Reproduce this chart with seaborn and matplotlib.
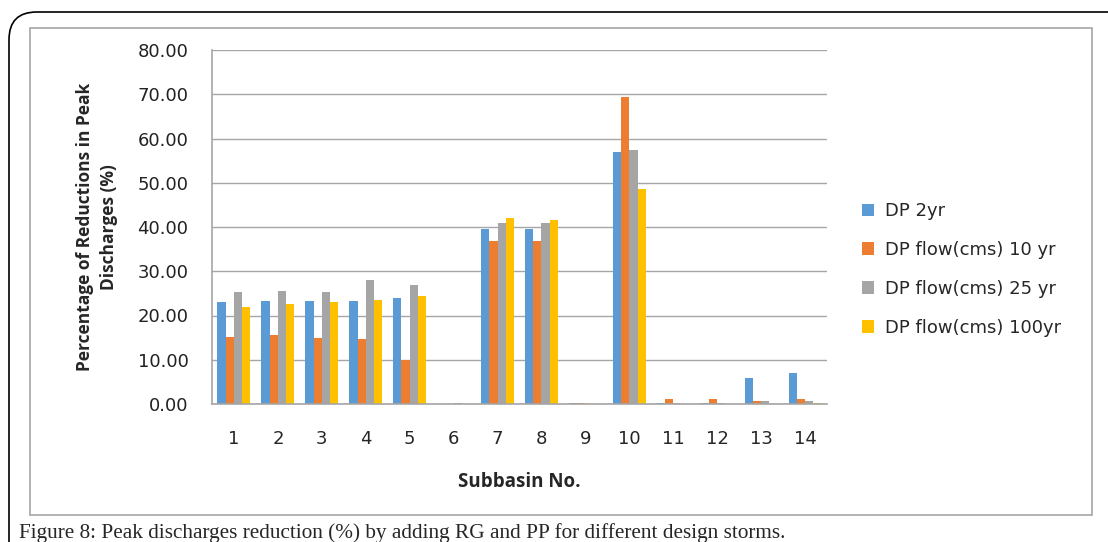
import pandas as pd
import numpy as np
import matplotlib
matplotlib.use("Agg")
import matplotlib.pyplot as plt
from matplotlib.patches import FancyBboxPatch, Rectangle
import seaborn as sns

subbasins = [str(i) for i in range(1, 15)]
dp_2yr = [23.0, 23.3, 23.3, 23.3, 24.0, 0.0, 39.5, 39.5, 0.3, 57.0, 0.3, 0.3, 5.9, 7.1]
dp_10yr = [15.2, 15.5, 15.0, 14.7, 10.0, 0.0, 36.8, 36.8, 0.3, 69.3, 1.2, 1.2, 0.6, 1.2]
dp_25yr = [25.2, 25.5, 25.2, 28.0, 26.8, 0.3, 40.8, 40.8, 0.0, 57.5, 0.3, 0.3, 0.6, 0.6]
dp_100yr = [22.0, 22.6, 23.0, 23.5, 24.5, 0.0, 42.0, 41.5, 0.0, 48.5, 0.0, 0.0, 0.0, 0.3]
series_names = ["DP 2yr", "DP flow(cms) 10 yr", "DP flow(cms) 25 yr", "DP flow(cms) 100yr"]
colors = ["#5B9BD5", "#ED7D31", "#A5A5A5", "#FFC000"]

rows = []
for name, vals in zip(series_names, [dp_2yr, dp_10yr, dp_25yr, dp_100yr]):
    for sb, v in zip(subbasins, vals):
        rows.append({"Subbasin": sb, "Series": name, "Value": v})
df = pd.DataFrame(rows)

sns.set_style("white")
plt.rcParams['font.family'] = ['DejaVu Sans']

fig = plt.figure(figsize=(11.08, 5.42), dpi=100)
ax = fig.add_axes([212 / 1108, 138 / 542, 615 / 1108, 354 / 542])

sns.barplot(data=df, x="Subbasin", y="Value", hue="Series", palette=colors,
            width=0.75, ax=ax, saturation=1, edgecolor="none")

ax.set_ylim(0, 80)
ax.set_yticks(np.arange(0, 81, 10))
ax.set_yticklabels([f"{v:.2f}" for v in np.arange(0, 81, 10)], fontsize=13, color="#222222")
ax.set_xlim(-0.5, 13.5)
ax.grid(axis="y", color="#A6A6A6", linewidth=1)
ax.set_axisbelow(True)
for s in ["top", "right"]:
    ax.spines[s].set_visible(False)
for s in ["left", "bottom"]:
    ax.spines[s].set_color("#A6A6A6")
    ax.spines[s].set_linewidth(1.2)

ax.tick_params(axis="x", which="major", length=0, pad=19, labelsize=13)
ax.set_xticks(np.arange(-0.5, 14, 1), minor=True)
ax.tick_params(axis="x", which="minor", length=7, color="#A6A6A6", width=1.2)
ax.tick_params(axis="y", length=5, color="#A6A6A6", width=1.2, pad=12)

ax.set_xlabel("Subbasin No.", fontsize=13.5, fontweight="bold", labelpad=17,
              family="Open Sans")
ax.set_ylabel("Percentage of Reductions in Peak\nDischarges (%)", fontsize=12.5,
              fontweight="bold", labelpad=14, family="Open Sans", linespacing=1.45)

leg = ax.legend(loc="center left", bbox_to_anchor=(1.03, 0.38), frameon=False,
                fontsize=13, handlelength=0.7, handleheight=0.7, labelspacing=1.15,
                handletextpad=0.6)

# chart area border and outer rounded frame
fig.patches.append(Rectangle((30 / 1108, 1 - 515 / 542), 1062 / 1108, 487 / 542,
                             transform=fig.transFigure, fill=False,
                             edgecolor="#A6A6A6", linewidth=1.2))
fig.patches.append(FancyBboxPatch((9 / 1108, -0.2), 1.2, 1 - 12 / 542 + 0.2,
                                  boxstyle="round,pad=0,rounding_size=0.025",
                                  mutation_aspect=1108 / 542,
                                  transform=fig.transFigure, fill=False,
                                  edgecolor="black", linewidth=1.2))

fig.text(19 / 1108, 1 - 533 / 542, "Figure 8: Peak discharges reduction (%) by adding RG and PP for different design storms.",
         fontsize=15.3, family="Liberation Serif", va="center", ha="left")

fig.savefig("out.png", dpi=100)
